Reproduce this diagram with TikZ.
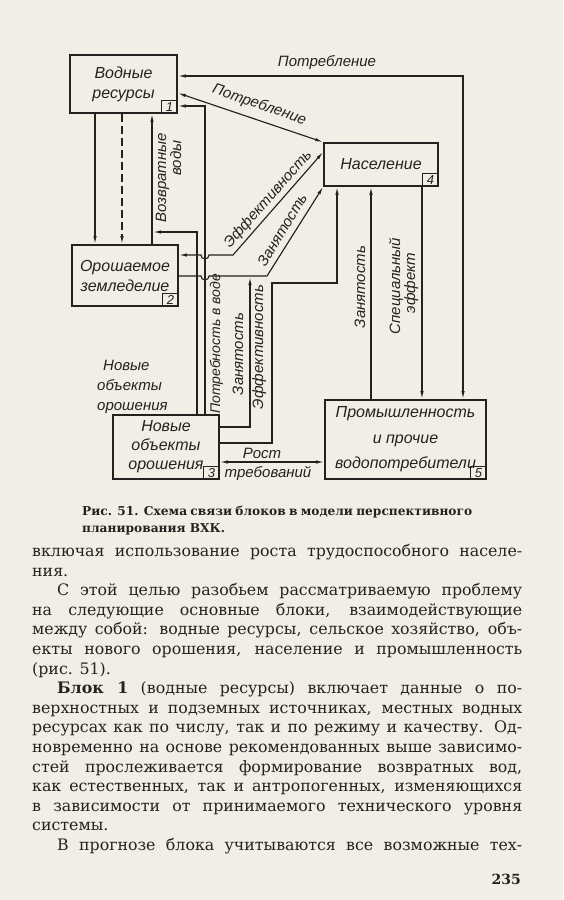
\documentclass[tikz,border=0pt]{standalone}
\usepackage{fontspec}
\setmainfont{DejaVu Serif}
\newfontfamily\gost{Liberation Sans}
\usetikzlibrary{arrows.meta,calc}
\definecolor{paper}{RGB}{241,238,230}
\definecolor{ink}{RGB}{36,34,32}
\newcommand\fullline[1]{\hbox to 490pt{#1}}
\newcommand\lastline[1]{\hbox{#1}}
\begin{document}
\begin{tikzpicture}[x=1pt,y=-1pt,
  blk/.style={draw=ink, line width=1.7pt, inner sep=0pt, align=center, text=ink,
    font=\gost\itshape\fontsize{16}{20}\selectfont},
  numbox/.style={draw=ink, line width=0.9pt, minimum width=16pt, minimum height=13pt,
    inner sep=0pt, anchor=south east, text=ink, font=\gost\itshape\fontsize{13}{13}\selectfont},
  conn/.style={draw=ink, line width=1.15pt},
  arr/.style={-{Latex[length=8pt,width=3.4pt]}},
  arrtwo/.style={{Latex[length=8pt,width=3.4pt]}-{Latex[length=8pt,width=3.4pt]}},
  lbl/.style={inner sep=0pt, text=ink, text height=8pt, text depth=2pt,
    font=\gost\itshape\fontsize{15}{18}\selectfont},
  bodytext/.style={inner sep=0pt, text=ink, anchor=north west}
]
\useasboundingbox (0,0) rectangle (563,900);
\fill[paper] (0,0) rectangle (563,900);

% blocks
\node[blk, minimum width=107pt, minimum height=58pt] (box1) at (123.5,84) {Водные\\ресурсы};
\node[blk, minimum width=106pt, minimum height=61pt] (box2) at (125,275.5) {Орошаемое\\земледелие};
\node[blk, minimum width=106pt, minimum height=64pt, font=\gost\itshape\fontsize{16}{19}\selectfont] (box3) at (166,447) {Новые\\объекты\\орошения};
\node[blk, minimum width=114pt, minimum height=43pt] (box4) at (381,164.5) {Население};
\node[blk, minimum width=161pt, minimum height=79pt, font=\gost\itshape\fontsize{16}{25.5}\selectfont] (box5) at (405.5,439.5) {Промышленность\\и прочие\\водопотребители};

\node[numbox] (n1) at (box1.south east) {1};
\node[numbox] (n2) at (box2.south east) {2};
\node[numbox] (n3) at (box3.south east) {3};
\node[numbox] (n4) at (box4.south east) {4};
\node[numbox] (n5) at (box5.south east) {5};

% connectors
\draw[conn,arr] (box1.south -| 95,0) -- (box2.north -| 95,0);
\draw[conn,arr,dash pattern=on 8pt off 4pt] (box1.south -| 122,0) -- (box2.north -| 122,0);
\draw[conn,arr] (box2.north -| 152,0) -- (box1.south -| 152,0);
\coordinate (j1) at (153,232);
\draw[conn,arr] (box3.north -| 197,0) |- (j1);
\draw[conn,arr] (box3.north -| 205,0) |- (box1.east |- 0,106);
\draw[conn,arrtwo] (box5.north -| 463,0) |- (box1.east |- 0,76);
\draw[conn,arrtwo] (box1.east |- 0,93) -- (box4.north west);
\draw[conn,arrtwo] (box2.east |- 0,255) -- (201,255) arc[start angle=180,end angle=0,radius=4] -- (233,255) -- (box4.west |- 0,152);
\draw[conn,arr] (box2.east |- 0,276) -- (201,276) arc[start angle=180,end angle=0,radius=4] -- (267,276) -- (box4.south west);
\coordinate (j2) at (250,277);
\draw[conn,arr] (box3.east |- 0,427) -| (j2);
\draw[conn,arr] (box3.east |- 0,443) -- (272,443) -- (272,283) -| (box4.south -| 337,0);
\draw[conn,arr] (box5.north -| 371,0) -- (box4.south -| 371,0);
\draw[conn,arr] (box4.south -| 422,0) -- (box5.north -| 422,0);
\draw[conn,arrtwo] (box3.east |- 0,462) -- (box5.west |- 0,462);

% labels
\node[lbl] (lPotrTop) at (327,63) {Потребление};
\node[lbl, rotate=-19.1] (lPotrDiag) at (259,106) {Потребление};
\node[lbl, rotate=48.5] (lEffDiag) at (269,200) {Эффективность};
\node[lbl, rotate=59] (lZanDiag) at (284,231) {Занятость};
\node[lbl, rotate=90] (lVozv) at (163,178) {Возвратные};
\node[lbl, rotate=90] (lVody) at (178,158) {воды};
\node[lbl, rotate=90, font=\gost\itshape\fontsize{14}{16}\selectfont] (lPotrV) at (217,344) {Потребность в воде};
\node[lbl, rotate=90] (lZanV) at (240,354) {Занятость};
\node[lbl, rotate=90] (lEffV) at (260,347) {Эффективность};
\node[lbl, rotate=90] (lZanR) at (362,287) {Занятость};
\node[lbl, rotate=90] (lSpec) at (397,286) {Специальный};
\node[lbl, rotate=90] (lEffekt) at (412,283) {эффект};
\node[lbl] (lRost) at (262,455) {Рост};
\node[lbl] (lTreb) at (268,474) {требований};
\node[lbl, anchor=west] (lNov) at (103,367) {Новые};
\node[lbl, anchor=west] (lObj) at (97,387) {объекты};
\node[lbl, anchor=west] (lOro) at (97,407) {орошения};

% caption
\node[bodytext, font=\bfseries\fontsize{12.2}{17}\selectfont] (cap) at (82,506)
 {\vbox{\hbox to 390pt{Рис. 51. Схема связи блоков в модели перспективного}\lastline{планирования ВХК.}}};

% body text
\node[bodytext, font=\fontsize{15.8}{19.6}\selectfont] (body) at (32,544)
 {\vbox{\fullline{включая использование роста трудоспособного населе-}
  \lastline{ния.}
  \fullline{\hspace*{25pt}С этой целью разобьем рассматриваемую проблему}
  \fullline{на следующие основные блоки, взаимодействующие}
  \fullline{между собой: водные ресурсы, сельское хозяйство, объ-}
  \fullline{екты нового орошения, население и промышленность}
  \lastline{(рис. 51).}
  \fullline{\hspace*{25pt}\textbf{Блок 1} (водные ресурсы) включает данные о по-}
  \fullline{верхностных и подземных источниках, местных водных}
  \fullline{ресурсах как по числу, так и по режиму и качеству. Од-}
  \fullline{новременно на основе рекомендованных выше зависимо-}
  \fullline{стей прослеживается формирование возвратных вод,}
  \fullline{как естественных, так и антропогенных, изменяющихся}
  \fullline{в зависимости от принимаемого технического уровня}
  \lastline{системы.}
  \fullline{\hspace*{25pt}В прогнозе блока учитываются все возможные тех-}}};

\node[inner sep=0pt, anchor=base east, text=ink, font=\bfseries\fontsize{14}{14}\selectfont] (pg) at (521,884) {235};
\end{tikzpicture}
\end{document}
